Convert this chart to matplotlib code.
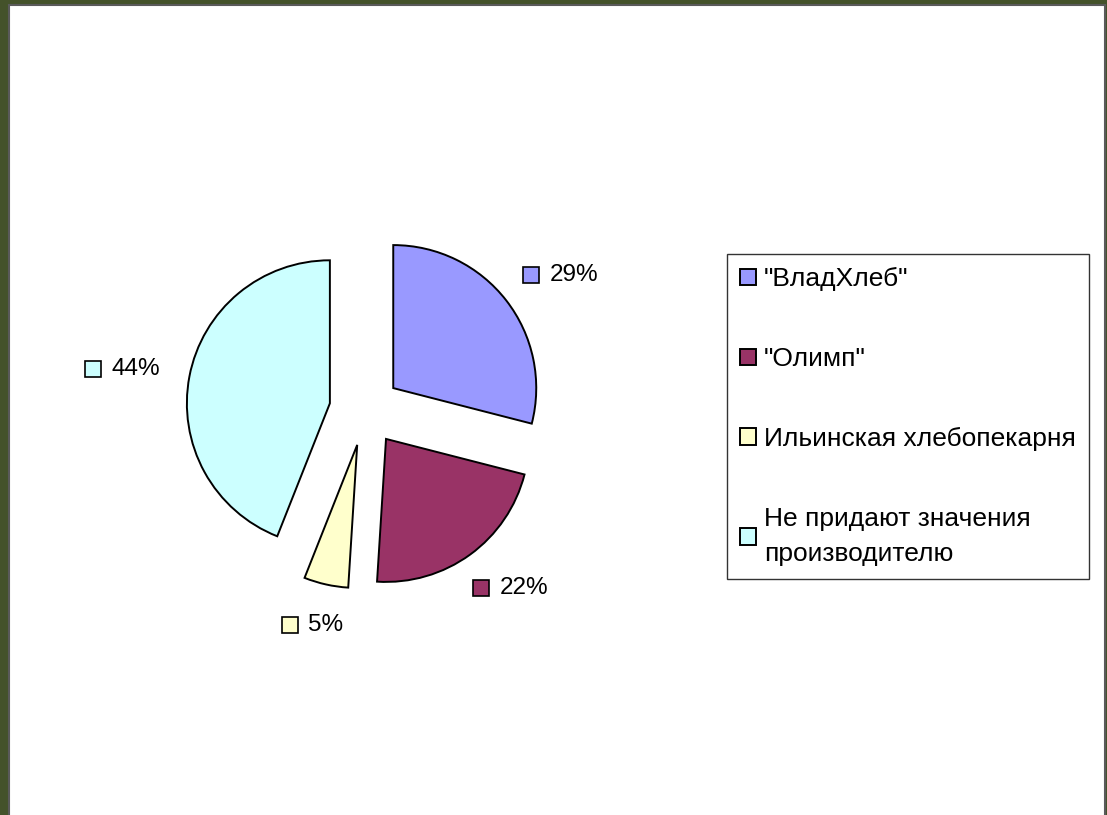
import numpy as np
import matplotlib.pyplot as plt
import matplotlib.transforms as mtransforms
from matplotlib.patches import Rectangle

# Данные диаграммы
categories = ['"ВладХлеб"', '"Олимп"', 'Ильинская хлебопекарня',
              'Не придают значения\nпроизводителю']
shares = [29, 22, 5, 44]
pct_labels = ['29%', '22%', '5%', '44%']
colors = ['#9999FF', '#993366', '#FFFFCC', '#CCFFFF']

plt.rcParams['font.family'] = ['Liberation Sans', 'DejaVu Sans']

W, H, DPI = 1107, 815, 100
fig = plt.figure(figsize=(W / DPI, H / DPI), dpi=DPI, facecolor='#44522a')

# белая подложка слайда
fig.patches.append(Rectangle((9 / W, -0.01), (1105 - 9) / W, 1 - 5 / H + 0.01,
                             transform=fig.transFigure, facecolor='white',
                             edgecolor='#5a5a5a', linewidth=1.5, zorder=-5))

# оси пирога: центр (365, 410) px, радиус 143 px
R = 143
size = 3 * R
ax = fig.add_axes([(365 - size / 2) / W, (H - 410 - size / 2) / H, size / W, size / H])
ax.set_zorder(2)

explode = [0.25] * len(shares)
wedges, _ = ax.pie(shares, colors=colors, startangle=90, counterclock=False,
                   explode=explode, radius=1.0,
                   wedgeprops=dict(edgecolor='black', linewidth=1.4))
ax.set_xlim(-1.5, 1.5)
ax.set_ylim(-1.5, 1.5)
ax.set_aspect('equal')
ax.axis('off')

# подписи долей с цветным маркером (как в Excel: рамка подписи снаружи точки)
total = float(sum(shares))
cum = 0.0
lab_dist = 1.47
for val, lab, col in zip(shares, pct_labels, colors):
    mid = np.deg2rad((cum + val / 2) / total * 360)
    cum += val
    sx, cy = np.sin(mid), np.cos(mid)
    gx, gy = lab_dist * sx, lab_dist * cy
    text_w = 24 * 0.556 * (len(lab) - 1) + 24 * 0.889
    group_w = 16 + 10 + text_w
    shift_x = group_w / 2 * sx
    shift_y = 10 * cy
    off_m = mtransforms.ScaledTranslation((shift_x - group_w / 2 + 8) / DPI, shift_y / DPI,
                                          fig.dpi_scale_trans)
    ax.plot(gx, gy, marker='s', markersize=11, markerfacecolor=col,
            markeredgecolor='black', markeredgewidth=1.2,
            transform=ax.transData + off_m, clip_on=False)
    off_t = mtransforms.ScaledTranslation((shift_x - group_w / 2 + 26) / DPI, shift_y / DPI,
                                          fig.dpi_scale_trans)
    ax.text(gx, gy, lab, fontsize=17.5, ha='left', va='center',
            transform=ax.transData + off_t)

leg = fig.legend(wedges, categories, loc='upper left',
                 bbox_to_anchor=(727 / W, 1 - 254 / H), fontsize=19,
                 frameon=True, fancybox=False, edgecolor='black',
                 handlelength=0.6, handleheight=0.6, handletextpad=0.3,
                 labelspacing=2.12, borderpad=0.5, borderaxespad=0)
leg.get_frame().set_linewidth(1.0)
leg.set_zorder(3)
for t in leg.get_texts():
    t.set_linespacing(1.55)

fig.savefig('out.png', dpi=DPI, facecolor=fig.get_facecolor())
